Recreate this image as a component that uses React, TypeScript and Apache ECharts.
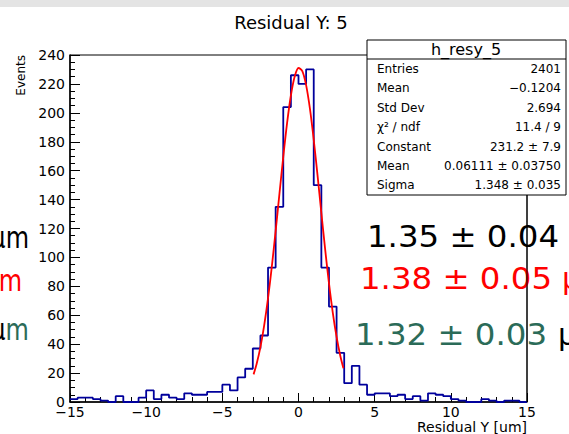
import React, { useEffect, useRef } from 'react';
import * as echarts from 'echarts';

// Histogram h_resy_5: 60 bins of width 0.5 from -15 to 15
const binStart = -15;
const binWidth = 0.5;
const counts = [
  2, 3, 3, 2, 1, 0, 4, 0, 0, 3,
  8, 2, 5, 3, 2, 6, 5, 5, 7, 7,
  12, 8, 17, 23, 37, 46, 93, 135, 204, 226,
  220, 230, 150, 93, 66, 34, 13, 25, 12, 5,
  6, 6, 4, 5, 2, 4, 1, 6, 5, 4,
  2, 1, 0, 0, 2, 1, 0, 1, 1, 0,
];

// Gaussian fit curve
const fitX = [-2.95, -2.75, -2.5, -2.25, -2, -1.75, -1.5, -1.25, -1, -0.75, -0.5, -0.25, 0, 0.25, 0.5, 0.75, 1, 1.25, 1.5, 1.75, 2, 2.25, 2.5, 2.75, 2.95];
const fitY = [19.1, 26.3, 38.0, 53.2, 71.8, 93.8, 118.3, 144.1, 169.6, 192.9, 212.0, 225.1, 231.0, 228.9, 219.2, 202.9, 181.4, 156.7, 130.8, 105.5, 82.2, 61.9, 45.0, 31.6, 23.3];

const statLabels = ['Entries', 'Mean', 'Std Dev', 'χ² / ndf', 'Constant', 'Mean', 'Sigma'];
const statValues = ['2401', '−0.1204', '2.694', '11.4 / 9', '231.2 ± 7.9', '0.06111 ± 0.03750', '1.348 ± 0.035'];

const FONT = '"DejaVu Sans", "Liberation Sans", sans-serif';
const BIG = '"DejaVu Sans", sans-serif';
const GREEN = '#2b6b58';

export default function App() {
  const ref = useRef<HTMLDivElement>(null);
  useEffect(() => {
    document.body.style.margin = '0';
    const chart = echarts.init(ref.current!, null, { renderer: 'svg' });
    const histData: number[][] = counts.map((c, i) => [binStart + i * binWidth, c]);
    histData.push([binStart + counts.length * binWidth, counts[counts.length - 1]]);
    const fitData = fitX.map((x, i) => [x, fitY[i]]);

    const statEls: any[] = [];
    statLabels.forEach((l, i) => {
      const y = 69 + i * 19.4;
      statEls.push({ type: 'text', x: 377, y, z: 101, style: { text: l, font: `12px ${FONT}`, fill: '#000', textAlign: 'left', textVerticalAlign: 'middle' } });
      statEls.push({ type: 'text', x: 561, y, z: 101, style: { text: statValues[i], font: `12px ${FONT}`, fill: '#000', textAlign: 'right', textVerticalAlign: 'middle' } });
    });

    const big = (text: string, x: number, y: number, fill: string, align: string, sx: number) => ({
      type: 'text', x, y, scaleX: sx, z: 100,
      style: { text, font: `30px ${BIG}`, fill, textAlign: align, textVerticalAlign: 'middle' },
    });

    chart.setOption({
      animation: false,
      backgroundColor: '#ffffff',
      grid: { left: 70, right: 42, top: 55, bottom: 32, show: true, borderColor: '#000', borderWidth: 1, outerBoundsMode: 'none' },
      xAxis: {
        type: 'value', min: -15, max: 15, interval: 5,
        axisLine: { show: true, onZero: false, lineStyle: { color: '#000', width: 1.5 } },
        axisTick: { show: true, inside: true, length: 9, lineStyle: { color: '#000', width: 1 } },
        minorTick: { show: true, splitNumber: 5, length: 5, lineStyle: { color: '#000', width: 1 } },
        splitLine: { show: false },
        axisLabel: { color: '#000', fontSize: 14, fontFamily: FONT, margin: 3, formatter: (v: number) => String(v).replace('-', '−') },
      },
      yAxis: {
        type: 'value', min: 0, max: 240, interval: 20,
        axisLine: { show: true, onZero: false, lineStyle: { color: '#000', width: 1.5 } },
        axisTick: { show: true, inside: true, length: 10, lineStyle: { color: '#000', width: 1 } },
        minorTick: { show: true, splitNumber: 4, length: 5, lineStyle: { color: '#000', width: 1 } },
        splitLine: { show: false },
        axisLabel: { color: '#000', fontSize: 14, fontFamily: FONT, margin: 5 },
      },
      series: [
        {
          type: 'line', data: histData, step: 'end', symbol: 'none',
          lineStyle: { color: '#00009c', width: 1.8 }, z: 3,
        },
        {
          type: 'line', data: fitData, smooth: 0.3, symbol: 'none',
          lineStyle: { color: '#ff0000', width: 1.8 }, z: 4,
        },
      ],
      graphic: [
        { type: 'rect', shape: { x: 0, y: 0, width: 569, height: 7 }, style: { fill: '#e4e4e4' }, z: 50 },
        { type: 'text', x: 291, y: 22, z: 50, style: { text: 'Residual Y: 5', font: `18px ${FONT}`, fill: '#000', textAlign: 'center', textVerticalAlign: 'middle' } },
        { type: 'text', x: 21, y: 55, rotation: Math.PI / 2, z: 50, style: { text: 'Events', font: `12px ${FONT}`, fill: '#000', textAlign: 'right', textVerticalAlign: 'middle' } },
        { type: 'text', x: 527, y: 427, z: 50, style: { text: 'Residual Y [um]', font: `14px ${FONT}`, fill: '#000', textAlign: 'right', textVerticalAlign: 'middle' } },
        // stats box
        { type: 'rect', shape: { x: 367, y: 40, width: 199, height: 155 }, style: { fill: '#fff', stroke: '#000', lineWidth: 1 }, z: 100 },
        { type: 'line', shape: { x1: 367, y1: 59, x2: 566, y2: 59 }, style: { stroke: '#000', lineWidth: 1 }, z: 101 },
        { type: 'text', x: 466, y: 49, z: 101, style: { text: 'h_resy_5', font: `16px ${FONT}`, fill: '#000', textAlign: 'center', textVerticalAlign: 'middle' } },
        ...statEls,
        // slide annotations
        big('μm', 29, 237.6, '#000', 'right', 0.8),
        big('μm', 22, 280.6, '#ff0000', 'right', 0.8),
        {
          type: 'text', x: 29, y: 329.6, scaleX: 0.8, z: 100,
          style: {
            text: '{k|μ}{g|m}', font: `30px ${BIG}`, textAlign: 'right', textVerticalAlign: 'middle',
            rich: { k: { fill: '#000', font: `30px ${BIG}` }, g: { fill: GREEN, font: `30px ${BIG}` } },
          },
        },
        big('1.35 ± 0.04', 367, 236.6, '#000', 'left', 1.08),
        big('1.38 ± 0.05', 360, 278.6, '#ff0000', 'left', 1.08),
        big('μm', 562, 278.6, '#ff0000', 'left', 1.0),
        big('1.32 ± 0.03', 355, 334.6, GREEN, 'left', 1.08),
        big('μm', 558, 334.6, '#000', 'left', 1.0),
        // frame right edge over the annotations
        { type: 'line', shape: { x1: 527, y1: 195, x2: 527, y2: 402 }, style: { stroke: '#000', lineWidth: 1 }, z: 102 },
      ],
    });
    return () => chart.dispose();
  }, []);
  return <div ref={ref} style={{ width: 569, height: 434, background: '#fff' }} />;
}
